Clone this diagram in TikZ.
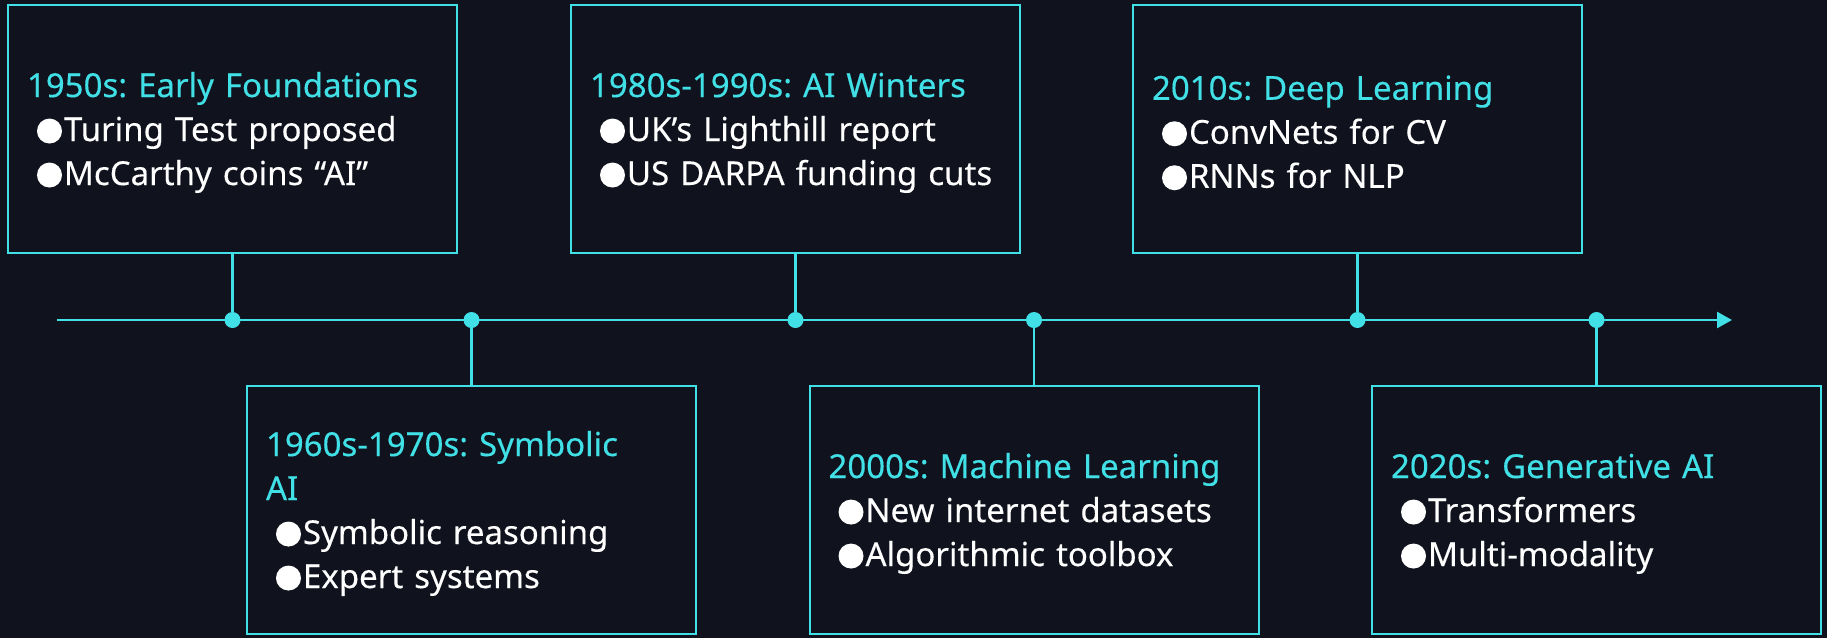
\documentclass[tikz,border=0pt]{standalone}
\usepackage{fontspec}
\setmainfont{Noto Sans}[FakeBold=0.25]
\usetikzlibrary{arrows.meta}
\definecolor{bg}{HTML}{10121D}
\definecolor{accent}{HTML}{40E0E6}
% filled round bullet followed by the item text
\newcommand{\bul}{\tikz[baseline=-10pt]\fill[white] (0,0) circle (12.5pt);\hspace{2pt}}
\newcommand{\itm}[1]{\hspace*{10pt}\bul#1}
\newcommand{\ttl}[1]{\rule{0pt}{32pt}{\color{accent}#1}}
\frenchspacing
\begin{document}
\begin{tikzpicture}[x=1pt,y=-1pt,
  box/.style={draw=accent, line width=2pt, fill=bg, minimum height=248pt,
    inner xsep=19pt, inner ysep=0pt, text width=411pt, align=left, text=white,
    font=\fontsize{33}{44}\selectfont},
  axis/.style={draw=accent, line width=2.6pt},
  dot/.style={circle, fill=accent, minimum size=16pt, inner sep=0pt}]
\fill[bg] (0,0) rectangle (1827,638);
\useasboundingbox (0,0) rectangle (1827,638);

% era boxes, alternating above and below the time axis
\node[box] (a) at (232.5,129) {\ttl{1950s: Early Foundations}\\\itm{Turing Test proposed}\\\itm{McCarthy coins “AI”}};
\node[box] (b) at (471.5,510) {\ttl{1960s-1970s: Symbolic}\\{\color{accent}AI}\\\itm{Symbolic reasoning}\\\itm{Expert systems}};
\node[box] (c) at (795.5,129) {\ttl{1980s-1990s: AI Winters}\\\itm{UK’s Lighthill report}\\\itm{US DARPA funding cuts}};
\node[box] (d) at (1034,510) {\ttl{2000s: Machine Learning}\\\itm{New internet datasets}\\\itm{Algorithmic toolbox}};
\node[box] (e) at (1357.5,129) {\ttl{2010s: Deep Learning}\\\itm{ConvNets for CV}\\\itm{RNNs for NLP}};
\node[box] (f) at (1596.5,510) {\ttl{2020s: Generative AI}\\\itm{Transformers}\\\itm{Multi-modality}};

% time axis
\coordinate (t0) at (57,320);
\coordinate (t1) at (1732,320);
\draw[axis, -{Triangle[length=15pt,width=16pt]}] (t0) -- (t1);

% ticks on the axis
\node[dot] (d1) at (232.5,320) {};
\node[dot] (d2) at (471.5,320) {};
\node[dot] (d3) at (795.5,320) {};
\node[dot] (d4) at (1034,320) {};
\node[dot] (d5) at (1357.5,320) {};
\node[dot] (d6) at (1596.5,320) {};

% stems from the boxes to the ticks
\draw[axis] (a) -- (d1);
\draw[axis] (d2) -- (b);
\draw[axis] (c) -- (d3);
\draw[axis] (d4) -- (d);
\draw[axis] (e) -- (d5);
\draw[axis] (d6) -- (f);
\end{tikzpicture}
\end{document}
